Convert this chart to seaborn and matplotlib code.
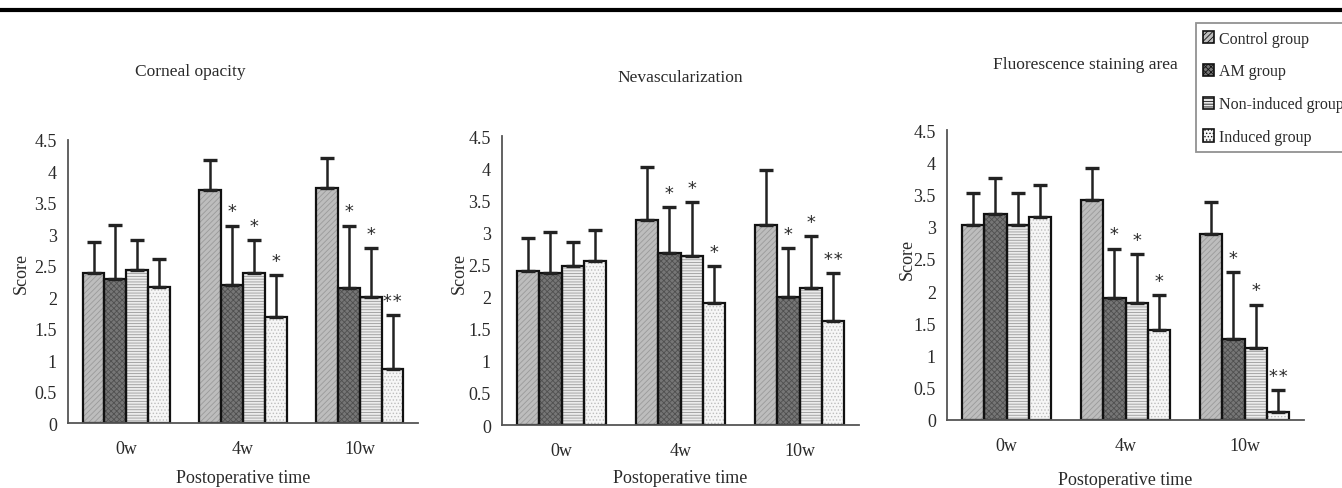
import matplotlib
matplotlib.use("Agg")
import matplotlib.pyplot as plt
import seaborn as sns
import pandas as pd
import numpy as np
from matplotlib.lines import Line2D
from matplotlib.patches import Patch

# ---------------- data ----------------
times = ["0w", "4w", "10w"]
groups = ["Control group", "AM group", "Non-induced group", "Induced group"]
titles = ["Corneal opacity", "Nevascularization", "Fluorescence staining area"]

# panel 1: Corneal opacity (means and SD per group, in time order)
p1_control = [2.38, 3.70, 3.73]
p1_am = [2.29, 2.19, 2.14]
p1_noninduced = [2.43, 2.38, 2.01]
p1_induced = [2.17, 1.69, 0.86]
p1_control_sd = [0.49, 0.48, 0.48]
p1_am_sd = [0.86, 0.95, 1.00]
p1_noninduced_sd = [0.48, 0.53, 0.77]
p1_induced_sd = [0.44, 0.67, 0.86]

# panel 2: Nevascularization
p2_control = [2.40, 3.19, 3.12]
p2_am = [2.37, 2.68, 2.00]
p2_noninduced = [2.47, 2.63, 2.13]
p2_induced = [2.56, 1.90, 1.62]
p2_control_sd = [0.51, 0.82, 0.85]
p2_am_sd = [0.63, 0.71, 0.75]
p2_noninduced_sd = [0.38, 0.84, 0.81]
p2_induced_sd = [0.48, 0.57, 0.75]

# panel 3: Fluorescence staining area
p3_control = [3.02, 3.42, 2.89]
p3_am = [3.20, 1.89, 1.25]
p3_noninduced = [3.02, 1.81, 1.12]
p3_induced = [3.15, 1.40, 0.12]
p3_control_sd = [0.50, 0.49, 0.50]
p3_am_sd = [0.56, 0.77, 1.05]
p3_noninduced_sd = [0.50, 0.77, 0.67]
p3_induced_sd = [0.49, 0.54, 0.34]

# significance marks (same for all panels): per group, per time
sig_control = ["", "", ""]
sig_am = ["", "*", "*"]
sig_noninduced = ["", "*", "*"]
sig_induced = ["", "*", "**"]

yticks = [0, 0.5, 1, 1.5, 2, 2.5, 3, 3.5, 4, 4.5]
ytick_labels = ["0", "0.5", "1", "1.5", "2", "2.5", "3", "3.5", "4", "4.5"]

panels = [
    ([p1_control, p1_am, p1_noninduced, p1_induced],
     [p1_control_sd, p1_am_sd, p1_noninduced_sd, p1_induced_sd]),
    ([p2_control, p2_am, p2_noninduced, p2_induced],
     [p2_control_sd, p2_am_sd, p2_noninduced_sd, p2_induced_sd]),
    ([p3_control, p3_am, p3_noninduced, p3_induced],
     [p3_control_sd, p3_am_sd, p3_noninduced_sd, p3_induced_sd]),
]
sigs = [sig_control, sig_am, sig_noninduced, sig_induced]

# ---------------- style ----------------
sns.set_style("white")
plt.rcParams["font.family"] = ["Liberation Serif", "DejaVu Serif"]
plt.rcParams["hatch.linewidth"] = 0.6
TXT = "#2a2a2a"

faces = ["#bdbdbd", "#767676", "#ececec", "#f6f6f6"]
hatch_cols = ["#9a9a9a", "#505050", "#9a9a9a", "#bdbdbd"]
hatches = ["//////", "xxxxxx", "------", "....."]

fig = plt.figure(figsize=(13.42, 4.89), dpi=100)

axes_rects = [
    [0.0507, 0.1329, 0.2608, 0.5788],
    [0.3741, 0.1288, 0.2660, 0.5910],
    [0.7057, 0.1391, 0.2660, 0.5930],
]
ylabel_x = [0.016, 0.342, 0.676]
ylabel_y = [0.44, 0.44, 0.47]
title_pos = [(0.142, 0.853), (0.507, 0.841), (0.809, 0.867)]
xlabel_y = [0.022, 0.022, 0.018]

for pi, (means, sds) in enumerate(panels):
    ax = fig.add_axes(axes_rects[pi])
    rows = []
    for g, vals in zip(groups, means):
        for t, v in zip(times, vals):
            rows.append({"time": t, "group": g, "score": v})
    df = pd.DataFrame(rows)
    # filled, hatched bars
    sns.barplot(data=df, x="time", y="score", hue="group", order=times,
                hue_order=groups, palette=faces, width=0.75, errorbar=None,
                saturation=1, linewidth=0, ax=ax, legend=False)
    bar_conts = list(ax.containers)
    for gi, cont in enumerate(bar_conts):
        for bar in cont.patches:
            bar.set_edgecolor(hatch_cols[gi])
            bar.set_hatch(hatches[gi])
            bar.set_linewidth(0)
    # black outlines
    sns.barplot(data=df, x="time", y="score", hue="group", order=times,
                hue_order=groups, palette=["#111111"] * 4, width=0.75,
                errorbar=None, fill=False, linewidth=1.6, ax=ax, legend=False)
    for gi, cont in enumerate(bar_conts):
        xs, tops = [], []
        for bar in cont.patches:
            xs.append(bar.get_x() + bar.get_width() / 2)
            tops.append(bar.get_height())
        sd = np.array(sds[gi])
        ax.errorbar(xs, tops, yerr=[np.zeros_like(sd), sd], fmt="none",
                    ecolor="#222222", elinewidth=1.8, capsize=5, capthick=2.4,
                    zorder=1)
        for x, top, s, mark in zip(xs, tops, sd, sigs[gi]):
            if mark:
                ax.text(x, top + s + 0.08, mark, ha="center", va="bottom",
                        fontsize=13, color=TXT, family="DejaVu Sans Mono")
    ax.set_ylim(0, 4.5)
    ax.set_xlim(-0.5, 2.5)
    ax.set_yticks(yticks)
    ax.set_yticklabels(ytick_labels)
    ax.tick_params(axis="y", length=3, width=1, direction="in", colors="#555",
                   labelcolor=TXT, labelsize=13, pad=8)
    ax.tick_params(axis="x", length=0, labelcolor=TXT, labelsize=13, pad=12)
    ax.set_xticks([0.5, 1.5, 2.5], minor=True)
    ax.tick_params(axis="x", which="minor", length=4, width=1, direction="in",
                   colors="#555")
    ax.set_xlabel("")
    ax.set_ylabel("")
    for side in ["top", "right"]:
        ax.spines[side].set_visible(False)
    for side in ["left", "bottom"]:
        ax.spines[side].set_color("#555555")
        ax.spines[side].set_linewidth(1.3)
    cx = axes_rects[pi][0] + axes_rects[pi][2] / 2
    fig.text(cx, xlabel_y[pi], "Postoperative time", ha="center", va="center",
             fontsize=13, color=TXT)
    fig.text(ylabel_x[pi], ylabel_y[pi], "Score", rotation=90, ha="center",
             va="center", fontsize=13, color=TXT)
    fig.text(title_pos[pi][0], title_pos[pi][1], titles[pi], ha="center",
             va="center", fontsize=12.5, color=TXT)

# legend
handles = []
for gi, g in enumerate(groups):
    p = Patch(facecolor=faces[gi], edgecolor="#111111", hatch=hatches[gi],
              linewidth=1.2, label=g)
    handles.append(p)
leg = fig.legend(handles=handles, loc="upper left",
                 bbox_to_anchor=(0.891, 0.95), frameon=True, fancybox=False,
                 edgecolor="#777777", fontsize=11.5, handlelength=0.7,
                 handleheight=0.8, handletextpad=0.3, labelspacing=1.05,
                 borderpad=0.45, borderaxespad=0)
leg.get_frame().set_linewidth(1.3)
for t in leg.get_texts():
    t.set_color(TXT)

# top rule
fig.add_artist(Line2D([0, 1], [0.978, 0.978], transform=fig.transFigure,
                      color="black", linewidth=3))

fig.savefig("out.png", dpi=100)
